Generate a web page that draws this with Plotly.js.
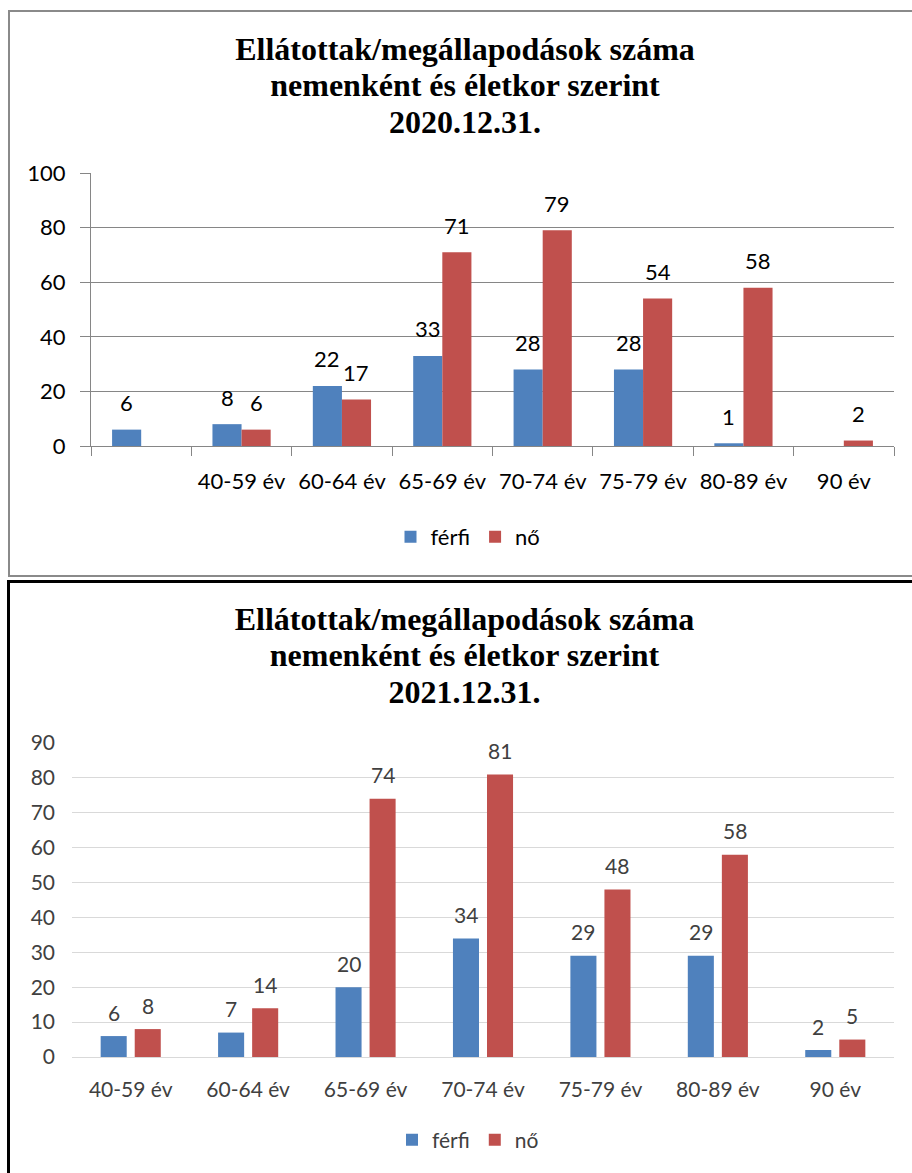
<!DOCTYPE html>
<html>
<head>
<meta charset="utf-8">
<script src="https://cdn.plot.ly/plotly-3.0.1.min.js"></script>
<style>
  html, body { margin: 0; padding: 0; overflow: hidden; background: #ffffff; width: 912px; height: 1173px; }
  #box1 { position: absolute; left: 8px; top: 10px; width: 914px; height: 567px; box-sizing: border-box; border: 2px solid #8a8a8a; background: #fff; }
  #box2 { position: absolute; left: 7px; top: 580px; width: 915px; height: 606px; box-sizing: border-box; border: 3px solid #000; background: #fff; }
  #chart1 { width: 910px; height: 563px; }
  #chart2 { width: 909px; height: 594px; }
</style>
</head>
<body>
<div id="box1"><div id="chart1"></div></div>
<div id="box2"><div id="chart2"></div></div>
<script>
// ---- data: 2020.12.31. ----
const titleLines2020 = ['Ellátottak/megállapodások száma', 'nemenként és életkor szerint', '2020.12.31.'];
const categories2020 = ['', '40-59 év', '60-64 év', '65-69 év', '70-74 év', '75-79 év', '80-89 év', '90 év'];
const ferfi2020 = [6, 8, 22, 33, 28, 28, 1, null];
const no2020 = [null, 6, 17, 71, 79, 54, 58, 2];
const yTicks2020 = [0, 20, 40, 60, 80, 100];

// ---- data: 2021.12.31. ----
const titleLines2021 = ['Ellátottak/megállapodások száma', 'nemenként és életkor szerint', '2021.12.31.'];
const categories2021 = ['40-59 év', '60-64 év', '65-69 év', '70-74 év', '75-79 év', '80-89 év', '90 év'];
const ferfi2021 = [6, 7, 20, 34, 29, 29, 2];
const no2021 = [8, 14, 74, 81, 48, 58, 5];
const yTicks2021 = [0, 10, 20, 30, 40, 50, 60, 70, 80, 90];

const seriesNames = ['férfi', 'nő'];
const BLUE = '#4F81BD';
const RED = '#C0504D';
const FONT = 'Lato, "Open Sans", sans-serif';
const SERIF = '"Liberation Serif", "DejaVu Serif", serif';

function titleText(lines) {
  return lines.map(l => '<span style="font-size:32px">' + l + '</span>').join('<br>');
}

function valueLabels(vals, offset, color, size, shift) {
  const out = [];
  vals.forEach((v, i) => {
    if (v === null || v === undefined) return;
    out.push({
      x: i + offset, y: v, xref: 'x', yref: 'y',
      text: String(v), showarrow: false,
      yanchor: 'middle', xanchor: 'center', yshift: shift,
      font: { family: FONT, size: size, color: color }
    });
  });
  return out;
}

function makeChart(div, cfg) {
  const idx = cfg.categories.map((_, i) => i);
  const off = (1 - cfg.bargap) / 4;
  const traces = [
    { type: 'bar', x: idx, y: cfg.ferfi, name: seriesNames[0], marker: { color: BLUE }, hoverinfo: 'skip' },
    { type: 'bar', x: idx, y: cfg.no, name: seriesNames[1], marker: { color: RED }, hoverinfo: 'skip' }
  ];
  const annotations = valueLabels(cfg.ferfi, -off, cfg.textColor, cfg.labelSize, cfg.labelShift)
    .concat(valueLabels(cfg.no, off, cfg.textColor, cfg.labelSize, cfg.labelShift));
  const layout = {
    width: cfg.width, height: cfg.height,
    margin: cfg.margin,
    paper_bgcolor: '#ffffff', plot_bgcolor: '#ffffff',
    barmode: 'group', bargap: cfg.bargap, bargroupgap: cfg.bargroupgap,
    title: {
      text: titleText(cfg.titleLines),
      font: { family: SERIF, size: 28, color: '#000', weight: 'bold' },
      x: 0.5, xanchor: 'center', xref: 'container',
      y: cfg.titleY, yanchor: 'top', yref: 'container'
    },
    showlegend: true,
    legend: {
      orientation: 'h', x: cfg.legendX, xanchor: 'center', xref: 'container',
      y: cfg.legendY, yanchor: 'middle', yref: 'container',
      font: { family: FONT, size: cfg.tickSize, color: cfg.textColor },
      traceorder: 'normal', bgcolor: 'rgba(0,0,0,0)'
    },
    xaxis: Object.assign({
      type: 'linear', range: [-0.5, cfg.categories.length - 0.5],
      tickmode: 'array', tickvals: idx, ticktext: cfg.categories,
      showgrid: false, zeroline: false, fixedrange: true,
      showline: true, linecolor: cfg.axisColor, linewidth: 1,
      tickfont: { family: FONT, size: cfg.tickSize, color: cfg.textColor }
    }, cfg.xExtra),
    yaxis: Object.assign({
      range: [0, cfg.yTicks[cfg.yTicks.length - 1]],
      tickmode: 'array', tickvals: cfg.yTicks, ticktext: cfg.yTicks.map(String),
      showgrid: true, gridcolor: cfg.gridColor, gridwidth: 1,
      zeroline: false, fixedrange: true,
      tickfont: { family: FONT, size: cfg.tickSize, color: cfg.textColor }
    }, cfg.yExtra),
    annotations: annotations
  };
  Plotly.newPlot(div, traces, layout, { displayModeBar: false, staticPlot: true });
}

makeChart('chart1', {
  titleLines: titleLines2020, categories: categories2020, ferfi: ferfi2020, no: no2020, yTicks: yTicks2020,
  width: 910, height: 563,
  margin: { l: 81, r: 26, t: 161, b: 129, pad: 0 },
  bargap: 0.42, bargroupgap: 0,
  titleY: 1 - 48 / 563,
  legendX: 458 / 910, legendY: 1 - 525 / 563,
  tickSize: 22, labelSize: 22, labelShift: 27,
  textColor: '#000000', axisColor: '#868686', gridColor: '#868686',
  xExtra: {
    ticks: '', ticklabelstandoff: 16,
    minor: { tickmode: 'linear', tick0: -0.5, dtick: 1, ticks: 'outside', ticklen: 9, tickcolor: '#868686', tickwidth: 1, showgrid: false }
  },
  yExtra: {
    ticks: 'outside', ticklen: 10, tickcolor: '#868686', tickwidth: 1,
    showline: true, linecolor: '#868686', linewidth: 1, ticklabelstandoff: 10
  }
});

makeChart('chart2', {
  titleLines: titleLines2021, categories: categories2021, ferfi: ferfi2021, no: no2021, yTicks: yTicks2021,
  width: 909, height: 594,
  margin: { l: 62, r: 25, t: 160, b: 120, pad: 0 },
  bargap: 0.42, bargroupgap: 0.235,
  titleY: 1 - 47 / 594,
  legendX: 458 / 909, legendY: 1 - 557 / 594,
  tickSize: 21, labelSize: 21, labelShift: 24,
  textColor: '#404040', axisColor: '#d9d9d9', gridColor: '#d9d9d9',
  xExtra: { ticks: '', ticklabelstandoff: 14 },
  yExtra: { ticks: '', showline: false, ticklabelstandoff: 16 }
});
</script>
</body>
</html>
